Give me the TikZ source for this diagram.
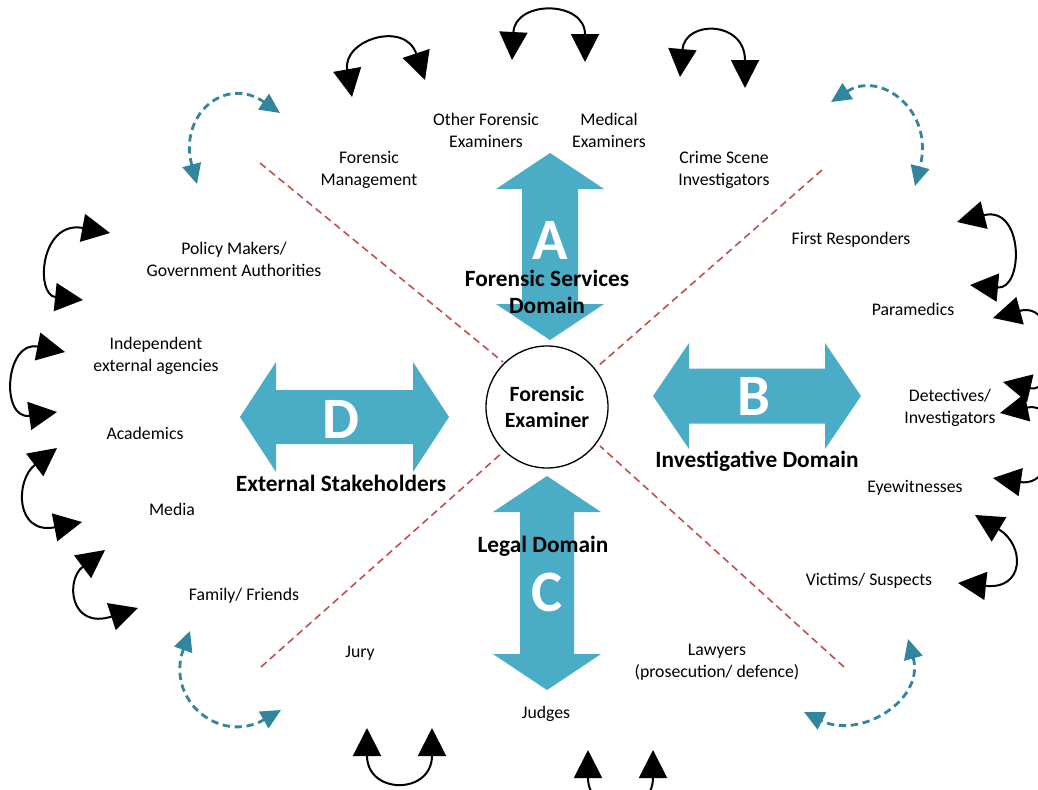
\documentclass[tikz,border=0pt]{standalone}
\usepackage{fontspec}
\setmainfont{Carlito}
\usetikzlibrary{arrows.meta}
\definecolor{arrowblue}{HTML}{4BACC6}
\definecolor{dashred}{HTML}{C0504D}
\definecolor{loopteal}{HTML}{31859C}
\tikzset{
 lbl/.style={font=\fontsize{13.3}{16.5}\selectfont, align=center, inner sep=0pt},
 dom/.style={font=\bfseries\fontsize{17.5}{20.5}\selectfont, align=center, inner sep=0pt},
 letter/.style={font=\bfseries\fontsize{44}{44}\selectfont, text=white, inner sep=0pt},
 bigarr/.style={fill=arrowblue, draw=none},
 sepline/.style={draw=dashred, line width=1.2pt, dash pattern=on 5.5pt off 3.5pt},
 loopblack/.style={draw=black, line width=1.5pt, {Triangle[length=21pt,width=21pt]}-{Triangle[length=21pt,width=21pt]}},
 loopdash/.style={draw=loopteal, line width=2.1pt, dash pattern=on 5.5pt off 3.5pt, {Triangle[length=15pt,width=14pt]}-{Triangle[length=15pt,width=14pt]}},
}
\newcommand{\VDArrow}[5]{%
 \fill[bigarr] (#1,#2) -- ({#1+#4},{#2+36}) -- ({#1+#5},{#2+36}) -- ({#1+#5},{#3-36}) -- ({#1+#4},{#3-36}) -- (#1,#3) -- ({#1-#4},{#3-36}) -- ({#1-#5},{#3-36}) -- ({#1-#5},{#2+36}) -- ({#1-#4},{#2+36}) -- cycle;}
\newcommand{\HDArrow}[5]{%
 \fill[bigarr] (#2,#1) -- ({#2+36},{#1-#4}) -- ({#2+36},{#1-#5}) -- ({#3-36},{#1-#5}) -- ({#3-36},{#1-#4}) -- (#3,#1) -- ({#3-36},{#1+#4}) -- ({#3-36},{#1+#5}) -- ({#2+36},{#1+#5}) -- ({#2+36},{#1+#4}) -- cycle;}
\begin{document}
\begin{tikzpicture}[x=0.75pt,y=-0.75pt]
\useasboundingbox (0,0) rectangle (1038,789);
\clip (0,0) rectangle (1038,789);

% red dashed separators
\coordinate (s1a) at (260,163); \coordinate (s1b) at (503,362);
\coordinate (s2a) at (822,170); \coordinate (s2b) at (597,367);
\coordinate (s3a) at (261,667); \coordinate (s3b) at (503,452);
\coordinate (s4a) at (844,667); \coordinate (s4b) at (600,446);
\draw[sepline] (s1a) -- (s1b);
\draw[sepline] (s2a) -- (s2b);
\draw[sepline] (s3a) -- (s3b);
\draw[sepline] (s4a) -- (s4b);

% big double arrows
\VDArrow{550}{153}{340}{54}{28}
\VDArrow{547}{476}{690}{54}{27}
\HDArrow{396}{653}{861}{53}{27.5}
\HDArrow{417}{240}{449}{55}{27}

% centre
\node[circle, draw, line width=1pt, fill=white, minimum size=91.5pt, inner sep=0pt,
  font=\bfseries\fontsize{16.3}{19.5}\selectfont, align=center] (fe) at (547,407) {Forensic\\Examiner};

% letters
\node[letter] (la) at (550,240) {A};
\node[letter] (lb) at (754,396) {B};
\node[letter] (lc) at (547,592) {C};
\node[letter] (ld) at (341,419) {D};

% domain labels
\node[dom] (da) at (547,292) {Forensic Services\\Domain};
\node[dom] (db) at (757,461) {Investigative Domain};
\node[dom] (dc) at (543,546) {Legal Domain};
\node[dom] (dd) at (341,483) {External Stakeholders};

% stakeholder labels
\node[lbl] (n1) at (486,130) {Other Forensic\\Examiners};
\node[lbl] (n2) at (609,130) {Medical\\Examiners};
\node[lbl] (n3) at (369,170) {Forensic\\Management};
\node[lbl] (n4) at (724,170) {Crime Scene\\Investigators};
\node[lbl] (n5) at (234,259) {Policy Makers/\\Government Authorities};
\node[lbl] (n6) at (851,240) {First Responders};
\node[lbl] (n7) at (156,356) {Independent\\external agencies};
\node[lbl] (n8) at (913,309) {Paramedics};
\node[lbl] (n9) at (145,433) {Academics};
\node[lbl] (n10) at (950,408) {Detectives/\\Investigators};
\node[lbl] (n11) at (172,509) {Media};
\node[lbl] (n12) at (915,488) {Eyewitnesses};
\node[lbl] (n13) at (244,596) {Family/ Friends};
\node[lbl] (n14) at (869,581) {Victims/ Suspects};
\node[lbl] (n15) at (360,653) {Jury};
\node[lbl] (n16) at (717,662) {Lawyers\\(prosecution/ defence)};
\node[lbl] (n17) at (546,714) {Judges};

% black loop arrows
\coordinate (t1a) at (352,97);  \coordinate (t1b) at (425,80);
\coordinate (t2a) at (512,60);  \coordinate (t2b) at (585,62);
\coordinate (t3a) at (680,77);  \coordinate (t3b) at (745,88);
\draw[loopblack] (t1a) .. controls (342,40) and (405,20) .. (t1b);
\draw[loopblack] (t2a) .. controls (515,0) and (585,0) .. (t2b);
\draw[loopblack] (t3a) .. controls (685,20) and (745,20) .. (t3b);

\coordinate (r1a) at (957,222);  \coordinate (r1b) at (970,285);
\coordinate (r2a) at (993,318);  \coordinate (r2b) at (1003,382);
\coordinate (r3a) at (1000,413); \coordinate (r3b) at (993,478);
\coordinate (r4a) at (975,515);  \coordinate (r4b) at (958,583);
\draw[loopblack] (r1a) .. controls (1024,205) and (1024,290) .. (r1b);
\draw[loopblack] (r2a) .. controls (1060,300) and (1060,395) .. (r2b);
\draw[loopblack] (r3a) .. controls (1065,400) and (1060,488) .. (r3b);
\draw[loopblack] (r4a) .. controls (1025,545) and (1025,590) .. (r4b);

\coordinate (l1a) at (110,233); \coordinate (l1b) at (83,300);
\coordinate (l2a) at (65,352);  \coordinate (l2b) at (57,412);
\coordinate (l3a) at (57,448);  \coordinate (l3b) at (82,522);
\coordinate (l4a) at (105,550); \coordinate (l4b) at (138,608);
\draw[loopblack] (l1a) .. controls (40,220) and (35,295) .. (l1b);
\draw[loopblack] (l2a) .. controls (5,340) and (0,420) .. (l2b);
\draw[loopblack] (l3a) .. controls (15,480) and (15,535) .. (l3b);
\draw[loopblack] (l4a) .. controls (65,580) and (70,630) .. (l4b);

\coordinate (b1a) at (367,728); \coordinate (b1b) at (432,728);
\coordinate (b2a) at (588,750); \coordinate (b2b) at (653,750);
\draw[loopblack] (b1a) .. controls (367,795) and (432,795) .. (b1b);
\draw[loopblack] (b2a) .. controls (588,818) and (653,818) .. (b2b);

% teal dashed loop arrows
\coordinate (q1a) at (197,184); \coordinate (q1b) at (280,113);
\coordinate (q2a) at (831,102); \coordinate (q2b) at (915,186);
\coordinate (q3a) at (190,631); \coordinate (q3b) at (281,710);
\coordinate (q4a) at (908,639); \coordinate (q4b) at (804,712);
\draw[loopdash] (q1a) .. controls (178,115) and (225,75) .. (q1b);
\draw[loopdash] (q2a) .. controls (880,70) and (935,110) .. (q2b);
\draw[loopdash] (q3a) .. controls (165,700) and (220,745) .. (q3b);
\draw[loopdash] (q4a) .. controls (925,700) and (860,740) .. (q4b);
\end{tikzpicture}
\end{document}
